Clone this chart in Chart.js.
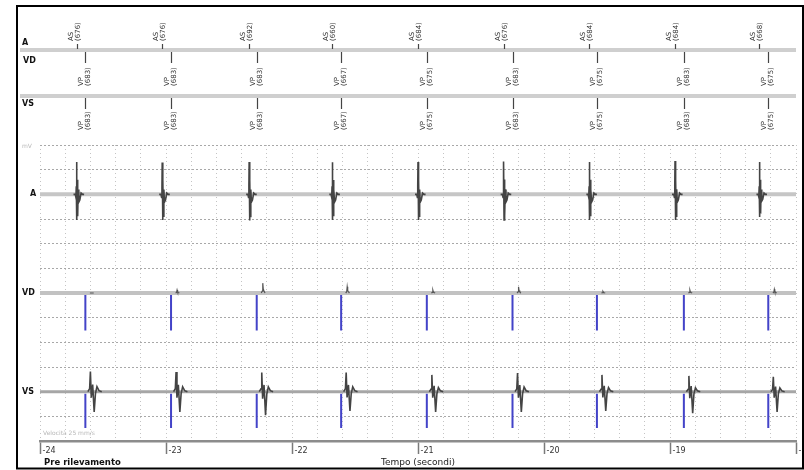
<!DOCTYPE html>
<html>
<head>
<meta charset="utf-8">
<title>EGM</title>
<script src="https://cdn.jsdelivr.net/npm/chart.js@4.4.1/dist/chart.umd.min.js"></script>
<style>
  html, body { margin: 0; padding: 0; background: #fff; }
</style>
</head>
<body>
<canvas id="egm" width="804" height="470"></canvas>
<script>
// time axis, seconds
const tickSeconds = [-24, -23, -22, -21, -20, -19, -18];

// sensed atrial events and paced ventricular events (s)
const atrialTimes = [-23.71, -23.03, -22.34, -21.68, -21.00, -20.32, -19.64, -18.96, -18.29];
const paceTimes = [-23.64, -22.96, -22.28, -21.61, -20.93, -20.25, -19.58, -18.89, -18.22];

// marker annotations (ms)
const aaIntervals = [676, 676, 692, 660, 684, 676, 684, 684, 668];
const vvIntervals = [683, 683, 683, 667, 675, 683, 675, 683, 675];

// per beat amplitudes, in grid divisions
const aPeak = [1.31, 1.29, 1.31, 1.30, 1.31, 1.33, 1.31, 1.35, 1.31];
const aTrough = [1.04, 1.04, 1.06, 1.04, 1.04, 1.04, 1.04, 1.04, 0.92];
const vdBump = [0.0, 0.12, 0.4, 0.25, 0.12, 0.25, 0.06, 0.12, 0.15];
const vsPeak = [0.82, 0.80, 0.78, 0.78, 0.68, 0.76, 0.68, 0.64, 0.60];
const vsTrough = [0.82, 0.82, 0.95, 0.78, 0.82, 0.82, 0.78, 0.87, 0.82];
const vdSpike = [1.52, 1.52, 1.52, 1.52, 1.52, 1.52, 1.52, 1.52, 1.52];
const vsSpike = [1.47, 1.47, 1.47, 1.47, 1.47, 1.47, 1.47, 1.47, 1.47];

// one complex as traced off the strip: offset (s) and normalised deflection
const aShapeT = [-0.024, -0.010, -0.005, -0.002, 0.000, 0.003, 0.006, 0.009, 0.013, 0.018, 0.026, 0.036, 0.048, 0.060];
const aShapeV = [0, 0, -0.12, 0.25, 1.0, -1.0, 0.45, -0.85, 0.15, -0.3, -0.22, 0.04, 0, 0];
const vdShapeT = [0.036, 0.044, 0.048, 0.052, 0.058, 0.066];
const vdShapeV = [0, 0.2, 1.0, 0.4, 0.2, 0];
const vsShapeT = [0.020, 0.034, 0.040, 0.047, 0.058, 0.070, 0.080, 0.092, 0.108, 0.130];
const vsShapeV = [0, 0.15, 1.0, -0.3, 0.35, -1.0, -0.1, 0.25, 0.05, 0];

// channel baselines on the y scale
const baseA = 10, baseVD = 6, baseVS = 2;

const gridSeconds = [];
for (let i = 0; i <= 30; i++) gridSeconds.push(-24 + i * 0.2);
const gridRows = [0, 1, 2, 3, 4, 5, 6, 7, 8, 9, 10, 11, 12];

function buildTrace(times, shapeT, shapeV, peaks, troughs, base) {
    const pts = [];
    times.forEach((t, i) => {
        shapeT.forEach((dt, k) => {
            const v = shapeV[k];
            pts.push({ x: t + dt, y: base + (v >= 0 ? v * peaks[i] : v * troughs[i]) });
        });
        pts.push({ x: t + shapeT[shapeT.length - 1], y: null });
    });
    return pts;
}

function buildSpikes(times, base, depth) {
    const pts = [];
    times.forEach((t, i) => {
        pts.push({ x: t, y: base - 0.08 }, { x: t, y: base - depth[i] }, { x: t, y: null });
    });
    return pts;
}

function flat(base) {
    return [{ x: -24, y: base }, { x: -18, y: base }];
}

function vtext(ctx, lines, x, yBottom, gap) {
    ctx.save();
    ctx.translate(x, yBottom);
    ctx.rotate(-Math.PI / 2);
    lines.forEach((s, i) => ctx.fillText(s, 0, (i - (lines.length - 1) / 2) * gap));
    ctx.restore();
}

// marker channel, channel names, frame and footer
const stripDecor = {
    id: 'stripDecor',
    afterDraw(chart) {
        const { ctx, chartArea: ca, scales: { x, y } } = chart;
        ctx.save();

        // marker rows
        ctx.strokeStyle = '#cfcfcf';
        ctx.lineWidth = 4;
        [50, 96].forEach(ry => {
            ctx.beginPath();
            ctx.moveTo(20, ry);
            ctx.lineTo(ca.right, ry);
            ctx.stroke();
        });

        ctx.fillStyle = '#111';
        ctx.font = 'bold 8px "DejaVu Sans"';
        ctx.textAlign = 'left';
        ctx.textBaseline = 'middle';
        ctx.fillText('A', 22, 43);
        ctx.fillText('VD', 23, 61);
        ctx.fillText('VS', 22, 104);

        ctx.fillText('A', 30, y.getPixelForValue(baseA));
        ctx.fillText('VD', 22, y.getPixelForValue(baseVD));
        ctx.fillText('VS', 22, y.getPixelForValue(baseVS));

        ctx.font = '7px "DejaVu Sans"';
        ctx.fillStyle = '#333';
        ctx.strokeStyle = '#444';
        ctx.lineWidth = 1.2;
        atrialTimes.forEach((t, i) => {
            const px = Math.round(x.getPixelForValue(t)) + 0.5;
            ctx.beginPath();
            ctx.moveTo(px, 44);
            ctx.lineTo(px, 49);
            ctx.stroke();
            vtext(ctx, ['AS', '(' + aaIntervals[i] + ')'], px - 3, 41, 7);
        });
        paceTimes.forEach((t, i) => {
            const px = Math.round(x.getPixelForValue(t)) + 0.5;
            [[52, 86], [98, 130]].forEach(([top, bottom]) => {
                ctx.beginPath();
                ctx.moveTo(px, top);
                ctx.lineTo(px, top + 11);
                ctx.stroke();
                vtext(ctx, ['VP', '(' + vvIntervals[i] + ')'], px - 1, bottom, 7);
            });
        });

        // faint scale notes
        ctx.fillStyle = '#b8b8b8';
        ctx.font = '6px "DejaVu Sans"';
        ctx.fillText('mV', 22, ca.top + 1);
        ctx.fillText('Velocità 25 mm/s', ca.left + 3, ca.bottom - 8);

        // footer
        ctx.fillStyle = '#111';
        ctx.font = 'bold 8.5px "DejaVu Sans"';
        ctx.fillText('Pre rilevamento', 44, 463);

        // frame
        ctx.strokeStyle = '#000';
        ctx.lineWidth = 2;
        ctx.strokeRect(17, 6, 786, 462.5);
        ctx.restore();
    }
};

document.addEventListener('DOMContentLoaded', function () {
    Chart.defaults.font.family = '"DejaVu Sans"';

    const ctx = document.getElementById('egm').getContext('2d');
    new Chart(ctx, {
        type: 'line',
        data: {
            datasets: [
                { data: flat(baseA), borderColor: '#c6c6c6', borderWidth: 4, order: 3 },
                { data: flat(baseVD), borderColor: '#c2c2c2', borderWidth: 4, order: 3 },
                { data: flat(baseVS), borderColor: '#a6a6a6', borderWidth: 3, order: 3 },
                { data: buildTrace(atrialTimes, aShapeT, aShapeV, aPeak, aTrough, baseA), borderColor: '#444', borderWidth: 1.6, order: 1 },
                { data: buildTrace(paceTimes, vdShapeT, vdShapeV, vdBump, vdBump, baseVD), borderColor: '#555', borderWidth: 1.2, order: 1 },
                { data: buildTrace(paceTimes, vsShapeT, vsShapeV, vsPeak, vsTrough, baseVS), borderColor: '#444', borderWidth: 1.6, order: 1 },
                { data: buildSpikes(paceTimes, baseVD, vdSpike), borderColor: '#4343c8', borderWidth: 2, order: 0 },
                { data: buildSpikes(paceTimes, baseVS, vsSpike), borderColor: '#4343c8', borderWidth: 2, order: 0 }
            ].map(d => Object.assign({ xAxisID: 'x', yAxisID: 'y', spanGaps: false, fill: false }, d))
        },
        options: {
            responsive: false,
            animation: false,
            devicePixelRatio: 1,
            layout: { padding: { top: 145, left: 40, right: 8, bottom: 0 } },
            elements: {
                point: { radius: 0 },
                line: { tension: 0, borderCapStyle: 'butt' }
            },
            plugins: { legend: { display: false }, tooltip: { enabled: false } },
            scales: {
                x: {
                    type: 'linear', min: -24, max: -18,
                    afterBuildTicks: s => { s.ticks = tickSeconds.map(v => ({ value: v })); },
                    afterFit: s => { s.height = 29; s.paddingLeft = 0; s.paddingRight = 0; },
                    grid: { drawOnChartArea: false, drawTicks: true, tickLength: 13, tickColor: '#7a7a7a', tickWidth: 1.5 },
                    border: { display: true, color: '#8c8c8c', width: 2.5 },
                    ticks: { align: 'start', padding: -8, color: '#333', font: { size: 8 }, callback: v => ' ' + v },
                    title: { display: true, text: 'Tempo (secondi)', color: '#222', font: { size: 9 }, padding: { top: 0, bottom: 2 } }
                },
                xg: {
                    type: 'linear', min: -24, max: -18, position: 'bottom',
                    afterBuildTicks: s => { s.ticks = gridSeconds.map(v => ({ value: v })); },
                    afterFit: s => { s.height = 0; s.paddingLeft = 0; s.paddingRight = 0; },
                    ticks: { display: false },
                    grid: { drawTicks: false, color: '#c4c4c4', lineWidth: 1 },
                    border: { display: false, dash: [1, 3] }
                },
                y: {
                    min: 0, max: 12,
                    afterBuildTicks: s => { s.ticks = gridRows.map(v => ({ value: v })); },
                    afterFit: s => { s.width = 0; },
                    ticks: { display: false },
                    grid: { drawTicks: false, color: '#a8a8a8' },
                    border: { display: false, dash: [2, 2] }
                }
            }
        },
        plugins: [stripDecor]
    });
});
</script>
</body>
</html>
